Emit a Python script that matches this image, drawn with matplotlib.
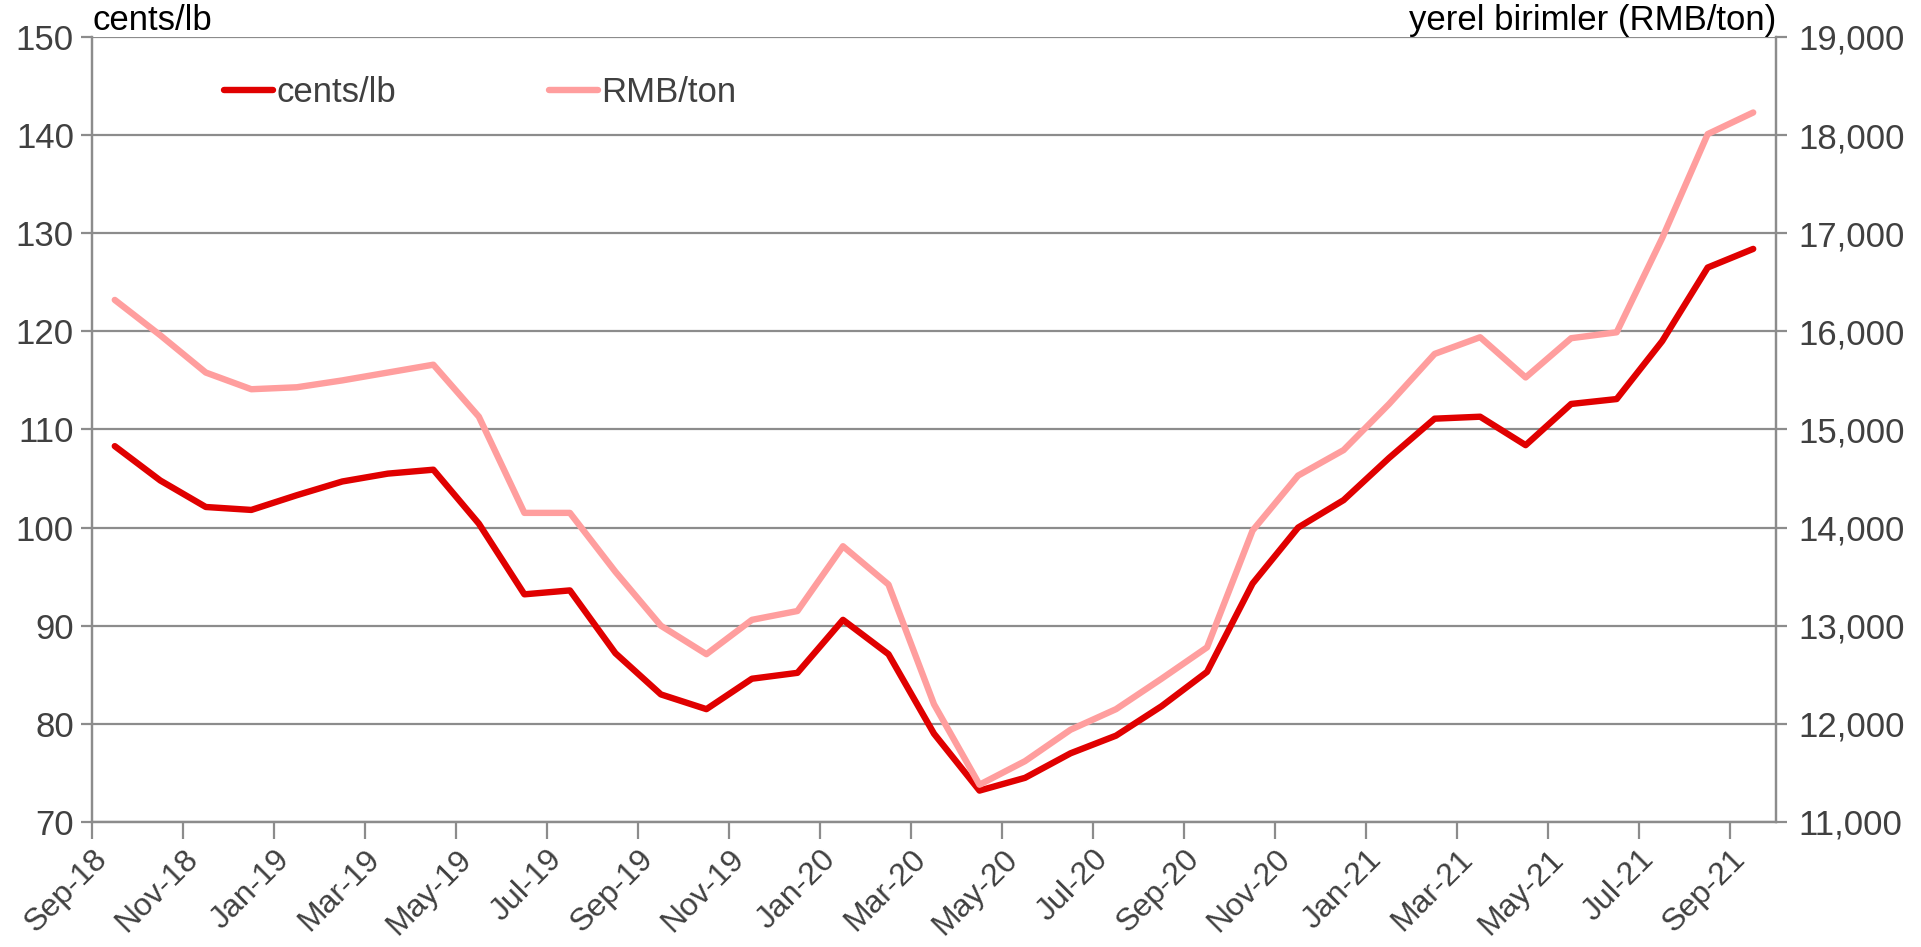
import matplotlib
matplotlib.use("Agg")
import matplotlib.pyplot as plt
from matplotlib.ticker import FuncFormatter

plt.rcParams['font.family'] = ['Liberation Sans', 'DejaVu Sans']

months = ["Sep-18", "Oct-18", "Nov-18", "Dec-18", "Jan-19", "Feb-19", "Mar-19", "Apr-19",
          "May-19", "Jun-19", "Jul-19", "Aug-19", "Sep-19", "Oct-19", "Nov-19", "Dec-19",
          "Jan-20", "Feb-20", "Mar-20", "Apr-20", "May-20", "Jun-20", "Jul-20", "Aug-20",
          "Sep-20", "Oct-20", "Nov-20", "Dec-20", "Jan-21", "Feb-21", "Mar-21", "Apr-21",
          "May-21", "Jun-21", "Jul-21", "Aug-21", "Sep-21"]

cents_lb = [108.3, 104.8, 102.1, 101.8, 103.3, 104.7, 105.5, 105.9,
            100.4, 93.2, 93.6, 87.2, 83.0, 81.5, 84.6, 85.2,
            90.6, 87.1, 79.0, 73.2, 74.5, 77.0, 78.8, 81.8,
            85.3, 94.3, 100.0, 102.8, 107.1, 111.1, 111.3, 108.4,
            112.6, 113.1, 119.0, 126.5, 128.4]

rmb_ton = [16320, 15960, 15580, 15410, 15430, 15500, 15580, 15660,
           15130, 14150, 14150, 13550, 13000, 12710, 13060, 13150,
           13810, 13420, 12200, 11380, 11620, 11940, 12150, 12460,
           12780, 13970, 14530, 14790, 15260, 15770, 15940, 15530,
           15930, 15990, 16950, 18010, 18230]

dark_red = "#E00000"
pink = "#FF9E9E"
grey = "#8C8C8C"
txt = "#404040"
fs = 25

fig = plt.figure(figsize=(19.21, 9.47), dpi=100)
ax = fig.add_axes([0.0479, 0.132, 0.8766, 0.829])
ax2 = ax.twinx()

x = list(range(len(months)))
l1, = ax.plot(x, cents_lb, color=dark_red, lw=4.6, solid_capstyle='round', label="cents/lb")
l2, = ax2.plot(x, rmb_ton, color=pink, lw=4.6, solid_capstyle='round', label="RMB/ton")

ax.set_xlim(-0.5, len(months) - 0.5)
ax.set_ylim(70, 150)
ax2.set_ylim(11000, 19000)
ax.set_yticks(range(70, 151, 10))
ax2.set_yticks(range(11000, 19001, 1000))
ax2.yaxis.set_major_formatter(FuncFormatter(lambda v, p: f"{int(v):,}"))

tick_pos = [i - 0.5 for i in range(0, len(months), 2)]
ax.set_xticks(tick_pos)
ax.set_xticklabels(months[::2], rotation=45, ha='right', rotation_mode='anchor')

ax.grid(axis='y', color=grey, lw=1.6)
ax.set_axisbelow(True)

for a in (ax, ax2):
    a.spines['top'].set_visible(False)
    for s in ('left', 'right', 'bottom'):
        a.spines[s].set_color(grey)
        a.spines[s].set_linewidth(1.6)
    a.tick_params(colors=grey, labelcolor=txt, labelsize=fs, width=1.6)
ax.tick_params(axis='y', length=8, pad=5)
ax2.tick_params(axis='y', length=8, pad=8)
ax.tick_params(axis='x', length=12, pad=4, labelsize=23)

ax.text(0, 1.0, "cents/lb", transform=ax.transAxes, fontsize=fs, color='black',
        ha='left', va='bottom')
ax2.text(1.0, 1.0, "yerel birimler (RMB/ton)", transform=ax.transAxes, fontsize=fs,
         color='black', ha='right', va='bottom')

ax2.legend(handles=[l1, l2], loc='upper left', bbox_to_anchor=(0.06, 0.99), ncol=2,
           frameon=False, fontsize=fs, labelcolor=txt, handlelength=1.4,
           handletextpad=0.1, columnspacing=4.4)

fig.savefig("out.png", dpi=100)
